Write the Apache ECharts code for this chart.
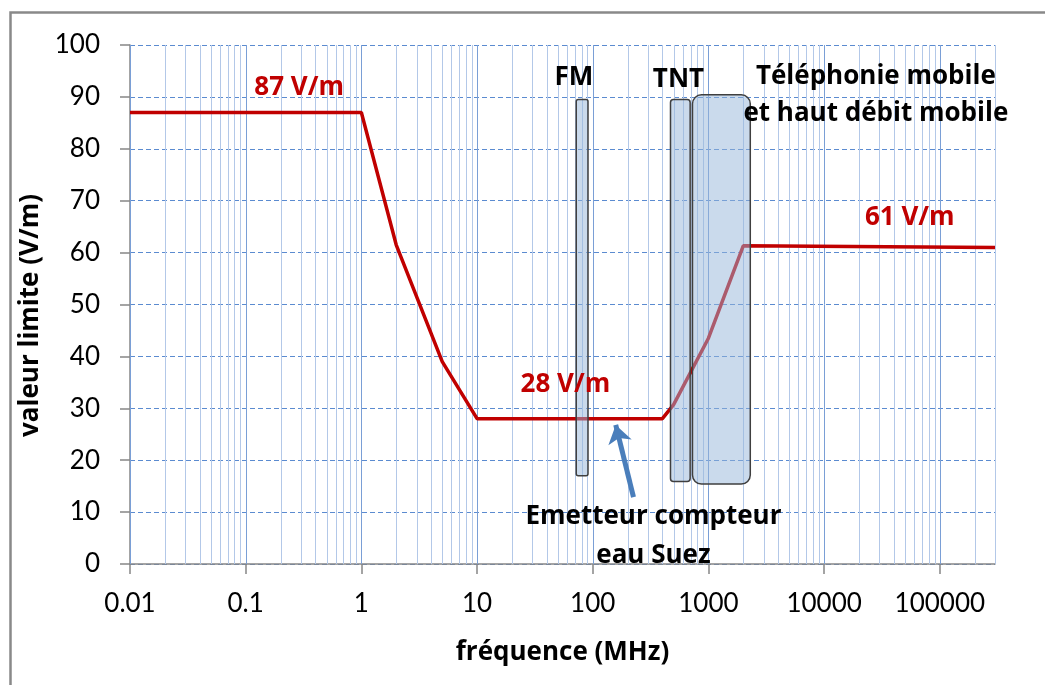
<!DOCTYPE html>
<html>
<head>
<meta charset="utf-8">
<script src="https://cdn.jsdelivr.net/npm/echarts@6/dist/echarts.min.js"></script>
<style>
html,body{margin:0;padding:0;background:#fff;}
#chart{width:1045px;height:685px;}
</style>
</head>
<body>
<div id="chart"></div>
<script>
// ---- data ----
const freqs  = [0.01, 1, 2, 5, 10, 400, 500, 1000, 2000, 300000];   // MHz
const limits = [87, 87, 61.5, 39, 28, 28, 30.7, 43.5, 61.3, 61];     // V/m

const xTickValues = [0.01, 0.1, 1, 10, 100, 1000, 10000, 100000];
const xTickLabels = ['0.01', '0.1', '1', '10', '100', '1000', '10000', '100000'];
const minorMultipliers = [2, 3, 4, 5, 6, 7, 8, 9];

// bands (FM, TNT, mobile)
const bandFreqLow  = [72, 470, 728];
const bandFreqHigh = [91, 695, 2300];
const bandValLow   = [17, 15.9, 15.4];
const bandValHigh  = [89.5, 89.5, 90.4];
const bandRadius   = [2, 3, 9];

// annotations
const annText = ['87 V/m', '28 V/m', '61 V/m', 'FM', 'TNT', 'Téléphonie mobile', 'et haut débit mobile', 'Emetteur compteur', 'eau Suez'];
const annFreq = [0.29, 58, 55000, 68.6, 551, 28000, 28000, 335, 335];
const annVal  = [91.7, 34.5, 66.7, 93.8, 93.3, 94.0, 86.7, 9.1, 1.7];
const annKind = ['red', 'red', 'red', 'black', 'black', 'black', 'black', 'black', 'black'];

// arrow (from text towards line)
const arrowFrom = [225, 12.9];
const arrowTo   = [158, 26.8];

// ---- build ----
const FONT = 'Lato';
const BOLD = 'Open Sans';
const lineData = freqs.map((f, i) => [f, limits[i]]);
const gridData = [];
xTickValues.forEach(d => {
  gridData.push([d, 1]);
  minorMultipliers.forEach(m => { const v = d * m; if (v <= 300000) gridData.push([v, 0]); });
});
const bandData = bandFreqLow.map((f, i) => [f, bandValLow[i], bandFreqHigh[i], bandValHigh[i]]);
const annData = annFreq.map((f, i) => [f, annVal[i]]);

const chart = echarts.init(document.getElementById('chart'), null, {renderer: 'canvas'});
chart.setOption({
  animation: false,
  backgroundColor: '#fff',
  graphic: [{
    type: 'rect', left: 8, top: 10, z: 100,
    shape: {width: 1100, height: 700},
    style: {fill: null, stroke: '#898989', lineWidth: 2.5}
  }],
  grid: {left: 130, right: 50, top: 45, bottom: 121, containLabel: false},
  xAxis: {
    type: 'log', logBase: 10, min: 0.01, max: 300000,
    name: 'fréquence (MHz)', nameLocation: 'middle', nameGap: 76,
    nameTextStyle: {fontFamily: BOLD, fontWeight: 'bold', fontSize: 26, color: '#000'},
    axisLine: {show: true, lineStyle: {color: '#868686', width: 1.5}},
    axisTick: {show: true, length: 10, inside: false, customValues: xTickValues, lineStyle: {color: '#868686', width: 1.5}},
    axisLabel: {
      customValues: xTickValues, margin: 27,
      fontFamily: FONT, fontSize: 26, color: '#000',
      formatter: v => { const i = xTickValues.findIndex(t => Math.abs(Math.log10(t) - Math.log10(v)) < 1e-6); return i >= 0 ? xTickLabels[i] : ''; }
    },
    splitLine: {show: false}
  },
  yAxis: {
    type: 'value', min: 0, max: 100, interval: 10,
    name: 'valeur limite (V/m)', nameLocation: 'middle', nameGap: 80,
    nameTextStyle: {fontFamily: BOLD, fontWeight: 'bold', fontSize: 26, color: '#000', padding: [0, 22, 0, 0]},
    axisLine: {show: true, lineStyle: {color: '#868686', width: 1.5}},
    axisTick: {show: true, length: 10, inside: false, lineStyle: {color: '#868686', width: 1.5}},
    axisLabel: {margin: 30, fontFamily: FONT, fontSize: 26, color: '#000'},
    splitLine: {show: true, lineStyle: {color: '#5b8bd0', width: 1, type: [5, 3]}}
  },
  series: [
    {
      type: 'custom', z: 1, silent: true,
      data: gridData,
      encode: {x: 0, y: 1},
      renderItem: (params, api) => {
        const f = api.value(0);
        const p1 = api.coord([f, 0]);
        const p2 = api.coord([f, 100]);
        const x = Math.round(p1[0]) + 0.5;
        const major = api.value(1) === 1;
        return {type: 'line', shape: {x1: x, y1: p1[1], x2: x, y2: p2[1]},
          style: {stroke: major ? '#7a9fd6' : '#b3c8e8', lineWidth: 1}};
      }
    },
    {
      type: 'line', z: 3, data: lineData, symbol: 'none', silent: true,
      lineStyle: {color: '#c00000', width: 3.5},
      markLine: {
        silent: true, symbol: ['none', 'arrow'], symbolSize: 18,
        lineStyle: {color: '#4a7ebb', width: 5, type: 'solid'},
        label: {show: false},
        data: [[{coord: arrowFrom}, {coord: arrowTo}]]
      }
    },
    {
      type: 'custom', z: 5, silent: true,
      data: bandData,
      encode: {x: [0, 2], y: [1, 3]},
      renderItem: (params, api) => {
        const a = api.coord([api.value(0), api.value(3)]);
        const b = api.coord([api.value(2), api.value(1)]);
        return {type: 'rect',
          shape: {x: a[0], y: a[1], width: b[0] - a[0], height: b[1] - a[1], r: bandRadius[params.dataIndex]},
          style: {fill: 'rgba(150,182,218,0.5)', stroke: '#3f3f3f', lineWidth: 1.5}};
      }
    },
    {
      type: 'custom', z: 6, silent: true,
      data: annData,
      encode: {x: 0, y: 1},
      renderItem: (params, api) => {
        const p = api.coord([api.value(0), api.value(1)]);
        const k = annKind[params.dataIndex];
        return {type: 'text', x: p[0], y: p[1],
          style: {text: annText[params.dataIndex], x: 0, y: 0, align: 'center', verticalAlign: 'middle',
            fill: k === 'red' ? '#c00000' : '#000',
            font: 'bold 26px "' + BOLD + '"'}};
      }
    }
  ]
});
</script>
</body>
</html>
